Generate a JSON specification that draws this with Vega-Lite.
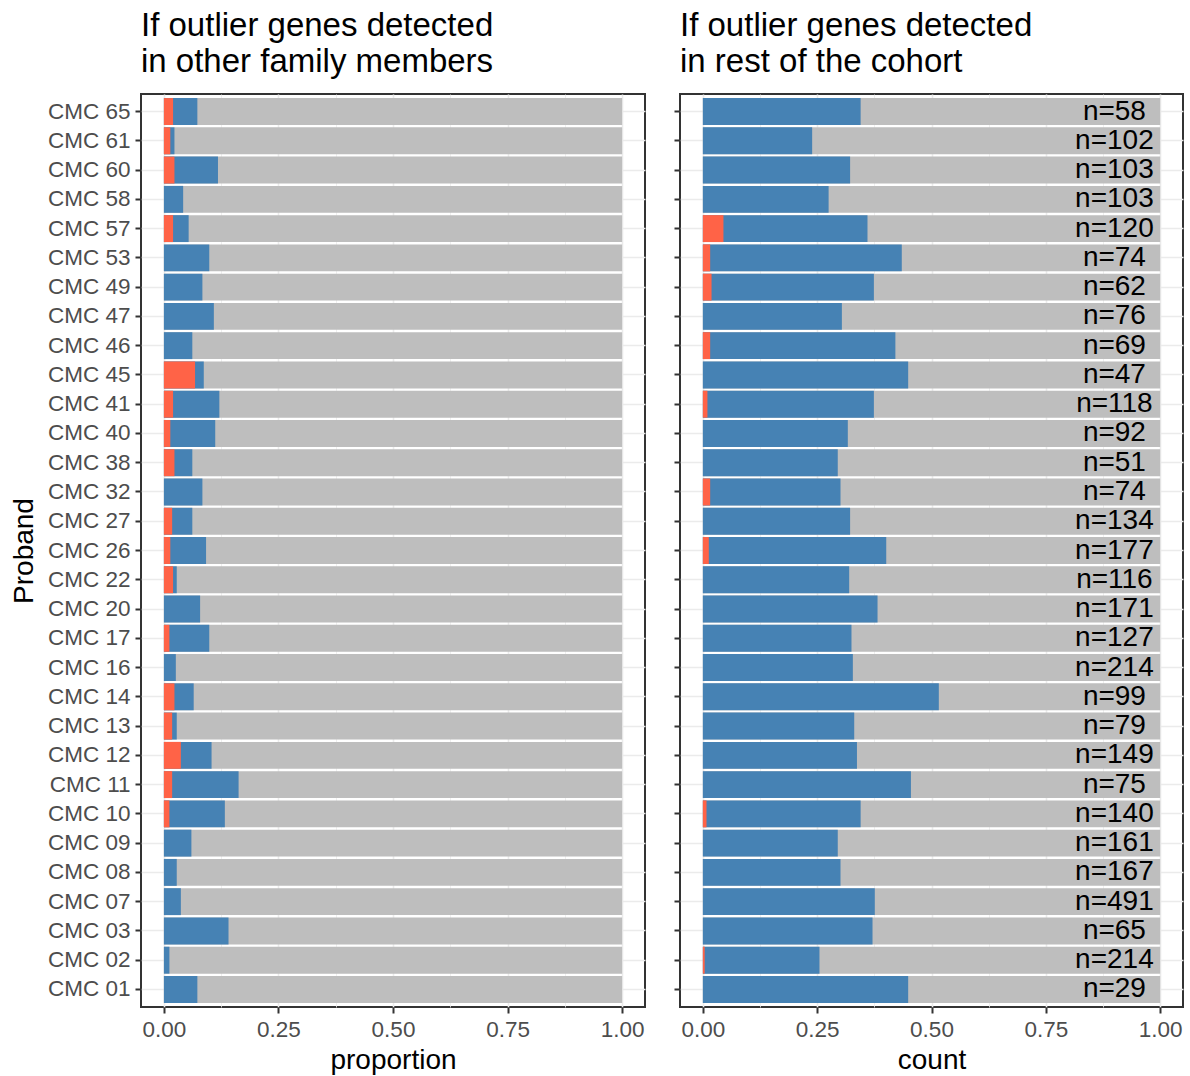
{
  "$schema": "https://vega.github.io/schema/vega-lite/v6.json",
  "padding": {"left": 9, "top": 9, "right": 5, "bottom": 4},
  "config": {
    "font": "Liberation Sans",
    "view": {"stroke": "#333333", "strokeWidth": 2},
    "axis": {
      "domain": false,
      "tickColor": "#333333",
      "tickWidth": 2,
      "tickSize": 6,
      "labelColor": "#4D4D4D",
      "labelFontSize": 22.5,
      "labelFont": "Liberation Sans",
      "titleFont": "Liberation Sans",
      "titleFontSize": 28,
      "titleColor": "#000000",
      "titleFontWeight": "normal",
      "gridColor": "#EBEBEB",
      "gridWidth": 1.6
    },
    "title": {"font": "Liberation Sans", "fontSize": 33, "fontWeight": "normal", "anchor": "start", "frame": "group", "color": "#000000", "lineHeight": 36, "offset": 15},
    "concat": {"spacing": 26}
  },
  "datasets": {
    "d": [
      {"proband": "CMC 65", "family_red": 0.020, "family_blue": 0.073, "cohort_red": 0, "cohort_blue": 0.345, "total": 1, "n_label": "n=58"},
      {"proband": "CMC 61", "family_red": 0.014, "family_blue": 0.023, "cohort_red": 0, "cohort_blue": 0.239, "total": 1, "n_label": "n=102"},
      {"proband": "CMC 60", "family_red": 0.023, "family_blue": 0.118, "cohort_red": 0, "cohort_blue": 0.322, "total": 1, "n_label": "n=103"},
      {"proband": "CMC 58", "family_red": 0, "family_blue": 0.042, "cohort_red": 0, "cohort_blue": 0.275, "total": 1, "n_label": "n=103"},
      {"proband": "CMC 57", "family_red": 0.020, "family_blue": 0.054, "cohort_red": 0.045, "cohort_blue": 0.360, "total": 1, "n_label": "n=120"},
      {"proband": "CMC 53", "family_red": 0, "family_blue": 0.099, "cohort_red": 0.016, "cohort_blue": 0.435, "total": 1, "n_label": "n=74"},
      {"proband": "CMC 49", "family_red": 0, "family_blue": 0.084, "cohort_red": 0.019, "cohort_blue": 0.374, "total": 1, "n_label": "n=62"},
      {"proband": "CMC 47", "family_red": 0, "family_blue": 0.109, "cohort_red": 0, "cohort_blue": 0.304, "total": 1, "n_label": "n=76"},
      {"proband": "CMC 46", "family_red": 0, "family_blue": 0.062, "cohort_red": 0.016, "cohort_blue": 0.421, "total": 1, "n_label": "n=69"},
      {"proband": "CMC 45", "family_red": 0.068, "family_blue": 0.087, "cohort_red": 0, "cohort_blue": 0.449, "total": 1, "n_label": "n=47"},
      {"proband": "CMC 41", "family_red": 0.020, "family_blue": 0.121, "cohort_red": 0.010, "cohort_blue": 0.374, "total": 1, "n_label": "n=118"},
      {"proband": "CMC 40", "family_red": 0.014, "family_blue": 0.112, "cohort_red": 0, "cohort_blue": 0.317, "total": 1, "n_label": "n=92"},
      {"proband": "CMC 38", "family_red": 0.023, "family_blue": 0.062, "cohort_red": 0, "cohort_blue": 0.295, "total": 1, "n_label": "n=51"},
      {"proband": "CMC 32", "family_red": 0, "family_blue": 0.084, "cohort_red": 0.016, "cohort_blue": 0.301, "total": 1, "n_label": "n=74"},
      {"proband": "CMC 27", "family_red": 0.018, "family_blue": 0.062, "cohort_red": 0, "cohort_blue": 0.322, "total": 1, "n_label": "n=134"},
      {"proband": "CMC 26", "family_red": 0.014, "family_blue": 0.092, "cohort_red": 0.013, "cohort_blue": 0.401, "total": 1, "n_label": "n=177"},
      {"proband": "CMC 22", "family_red": 0.020, "family_blue": 0.028, "cohort_red": 0, "cohort_blue": 0.320, "total": 1, "n_label": "n=116"},
      {"proband": "CMC 20", "family_red": 0, "family_blue": 0.079, "cohort_red": 0, "cohort_blue": 0.382, "total": 1, "n_label": "n=171"},
      {"proband": "CMC 17", "family_red": 0.012, "family_blue": 0.099, "cohort_red": 0, "cohort_blue": 0.325, "total": 1, "n_label": "n=127"},
      {"proband": "CMC 16", "family_red": 0, "family_blue": 0.026, "cohort_red": 0, "cohort_blue": 0.328, "total": 1, "n_label": "n=214"},
      {"proband": "CMC 14", "family_red": 0.023, "family_blue": 0.065, "cohort_red": 0, "cohort_blue": 0.516, "total": 1, "n_label": "n=99"},
      {"proband": "CMC 13", "family_red": 0.018, "family_blue": 0.028, "cohort_red": 0, "cohort_blue": 0.331, "total": 1, "n_label": "n=79"},
      {"proband": "CMC 12", "family_red": 0.037, "family_blue": 0.104, "cohort_red": 0, "cohort_blue": 0.337, "total": 1, "n_label": "n=149"},
      {"proband": "CMC 11", "family_red": 0.018, "family_blue": 0.163, "cohort_red": 0, "cohort_blue": 0.455, "total": 1, "n_label": "n=75"},
      {"proband": "CMC 10", "family_red": 0.012, "family_blue": 0.133, "cohort_red": 0.008, "cohort_blue": 0.345, "total": 1, "n_label": "n=140"},
      {"proband": "CMC 09", "family_red": 0, "family_blue": 0.060, "cohort_red": 0, "cohort_blue": 0.295, "total": 1, "n_label": "n=161"},
      {"proband": "CMC 08", "family_red": 0, "family_blue": 0.028, "cohort_red": 0, "cohort_blue": 0.301, "total": 1, "n_label": "n=167"},
      {"proband": "CMC 07", "family_red": 0, "family_blue": 0.037, "cohort_red": 0, "cohort_blue": 0.376, "total": 1, "n_label": "n=491"},
      {"proband": "CMC 03", "family_red": 0, "family_blue": 0.141, "cohort_red": 0, "cohort_blue": 0.371, "total": 1, "n_label": "n=65"},
      {"proband": "CMC 02", "family_red": 0, "family_blue": 0.012, "cohort_red": 0.004, "cohort_blue": 0.255, "total": 1, "n_label": "n=214"},
      {"proband": "CMC 01", "family_red": 0, "family_blue": 0.073, "cohort_red": 0, "cohort_blue": 0.449, "total": 1, "n_label": "n=29"}
    ]
  },
  "hconcat": [
    {
      "width": 504,
      "height": 913,
      "title": {"text": ["If outlier genes detected", "in other family members"]},
      "data": {"name": "d"},
      "encoding": {
        "y": {
          "field": "proband", "type": "nominal", "sort": null,
          "scale": {"paddingInner": 0.08, "paddingOuter": 0.14},
          "axis": {"title": "Proband", "grid": true, "labelPadding": 5, "titlePadding": 9}
        }
      },
      "resolve": {"axis": {"x": "independent"}},
      "layer": [
        {
          "mark": {"type": "bar", "color": "#BEBEBE"},
          "encoding": {
            "x": {
              "field": "total", "type": "quantitative",
              "scale": {"domain": [-0.05, 1.05], "nice": false, "zero": false},
              "axis": {"orient": "bottom", "values": [0.125, 0.375, 0.625, 0.875], "grid": true, "gridWidth": 0.8, "labels": false, "ticks": false, "title": null}
            }
          }
        },
        {
          "mark": {"type": "bar", "color": "#4682B4"},
          "encoding": {
            "x": {
              "field": "family_blue", "type": "quantitative",
              "axis": {"orient": "bottom", "values": [0, 0.25, 0.5, 0.75, 1], "format": ".2f", "grid": true, "title": "proportion", "labelPadding": 5, "titlePadding": 6}
            }
          }
        },
        {
          "mark": {"type": "bar", "color": "#FF6347"},
          "encoding": {"x": {"field": "family_red", "type": "quantitative", "axis": null}}
        }
      ]
    },
    {
      "width": 503,
      "height": 913,
      "title": {"text": ["If outlier genes detected", "in rest of the cohort"]},
      "data": {"name": "d"},
      "encoding": {
        "y": {
          "field": "proband", "type": "nominal", "sort": null,
          "scale": {"paddingInner": 0.08, "paddingOuter": 0.14},
          "axis": {"title": null, "grid": true, "labels": false}
        }
      },
      "resolve": {"axis": {"x": "independent"}},
      "layer": [
        {
          "mark": {"type": "bar", "color": "#BEBEBE"},
          "encoding": {
            "x": {
              "field": "total", "type": "quantitative",
              "scale": {"domain": [-0.05, 1.05], "nice": false, "zero": false},
              "axis": {"orient": "bottom", "values": [0.125, 0.375, 0.625, 0.875], "grid": true, "gridWidth": 0.8, "labels": false, "ticks": false, "title": null}
            }
          }
        },
        {
          "mark": {"type": "bar", "color": "#4682B4"},
          "encoding": {
            "x": {
              "field": "cohort_blue", "type": "quantitative",
              "axis": {"orient": "bottom", "values": [0, 0.25, 0.5, 0.75, 1], "format": ".2f", "grid": true, "title": "count", "labelPadding": 5, "titlePadding": 6}
            }
          }
        },
        {
          "mark": {"type": "bar", "color": "#FF6347"},
          "encoding": {"x": {"field": "cohort_red", "type": "quantitative", "axis": null}}
        },
        {
          "mark": {"type": "text", "fontSize": 28, "color": "#000000", "align": "center", "baseline": "middle", "font": "Liberation Sans"},
          "encoding": {
            "x": {"datum": 0.9, "type": "quantitative", "axis": null},
            "text": {"field": "n_label", "type": "nominal"}
          }
        }
      ]
    }
  ]
}
